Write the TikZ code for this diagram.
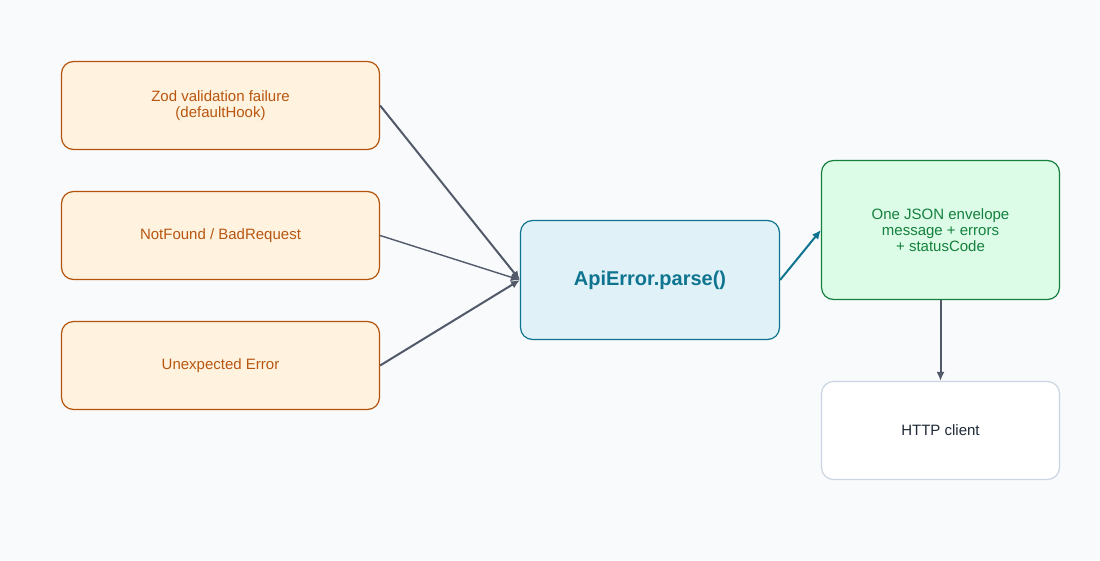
\documentclass[tikz,border=0pt]{standalone}
\usepackage{fontspec}
\setmainfont{Liberation Sans}
\usetikzlibrary{arrows.meta,positioning}
\definecolor{bg}{HTML}{F8FAFC}
\definecolor{srcfill}{HTML}{FFF3E0}
\definecolor{srcdraw}{HTML}{B45309}
\definecolor{srctext}{HTML}{B8560F}
\definecolor{parsefill}{HTML}{E0F2F8}
\definecolor{parsedraw}{HTML}{0E7490}
\definecolor{envfill}{HTML}{DCFCE7}
\definecolor{envdraw}{HTML}{15803D}
\definecolor{clidraw}{HTML}{CBD5E1}
\definecolor{clitext}{HTML}{1F2937}
\definecolor{arr}{HTML}{525A6A}
\tikzstyle{line} = [draw=arr, line width=2pt, -{Latex[length=9pt,width=8pt]}]
\tikzstyle{src} = [rectangle, rounded corners=12pt, draw=srcdraw, line width=1.2pt, fill=srcfill, text=srctext, minimum width=318pt, minimum height=88pt, align=center, font=\fontsize{15}{16}\selectfont]
\tikzstyle{parse} = [rectangle, rounded corners=12pt, draw=parsedraw, line width=1.2pt, fill=parsefill, text=parsedraw, minimum width=259pt, minimum height=119pt, align=center, font=\fontsize{20}{24}\selectfont\bfseries]
\tikzstyle{env} = [rectangle, rounded corners=12pt, draw=envdraw, line width=1.2pt, fill=envfill, text=envdraw, minimum width=238pt, minimum height=139pt, align=center, font=\fontsize{15}{16}\selectfont]
\tikzstyle{client} = [rectangle, rounded corners=12pt, draw=clidraw, line width=1.2pt, fill=white, text=clitext, minimum width=238pt, minimum height=98pt, align=center, font=\fontsize{15}{17}\selectfont]

\begin{document}
\begin{tikzpicture}[x=1pt, y=-1pt]
\fill [bg] (0,0) rectangle (1100,560);
\useasboundingbox (0,0) rectangle (1100,560);

\node [src] (zod) at (220.5,105.5) {Zod validation failure\\(defaultHook)};
\node [src] (nf) at (220.5,235.5) {NotFound / BadRequest};
\node [src] (unexp) at (220.5,365.5) {Unexpected Error};

\node [parse] (apierr) at (650,280) {ApiError.parse()};

\node [env] (json) at (940.5,230) {One JSON envelope\\message + errors\\+ statusCode};
\node [client] (http) at (940.5,430.5) {HTTP client};

\path [line] (zod.east) to (apierr.west);
\path [line, line width=1.4pt] (nf.east) to (apierr.west);
\path [line] (unexp.east) to (apierr.west);
\path [line, draw=parsedraw] (apierr.east) to (json.west);
\path [line] (json.south) to (http.north);

\end{tikzpicture}
\end{document}
